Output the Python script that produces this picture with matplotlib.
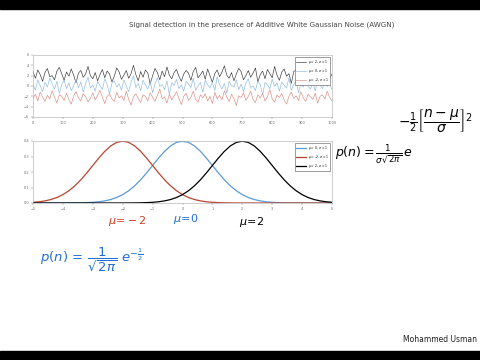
import numpy as np
import matplotlib
matplotlib.use("Agg")
import matplotlib.pyplot as plt
from matplotlib.patches import Rectangle

# ---------------- data ----------------
title = "Signal detection in the presence of Additive White Gaussian Noise (AWGN)"
author = "Mohammed Usman"

noise_labels = [r"$\mu$ = 2, $\sigma$ = 1", r"$\mu$ = 0, $\sigma$ = 1", r"$\mu$ = -2, $\sigma$ = 1"]
noise_black = [2.8, 1.5, 3.1, 2.2, 0.9, 2.6, 3.4, 1.8, 2.0, 1.2, 2.9, 3.6, 2.4, 1.1, 2.7, 1.9, 3.3, 2.1, 0.6, 2.5,
               3.0, 1.7, 2.3, 3.8, 2.0, 1.4, 2.6, 1.0, 2.2, 3.2, 1.6, 2.9, 2.3, 0.8, 1.9, 3.5, 2.7, 1.3, 2.1, 3.0,
               1.5, 2.4, 4.0, 2.2, 1.0, 2.8, 1.7, 3.1, 2.5, 0.4, 2.0, 3.4, 2.6, 1.2, 2.9, 1.8, 3.7, 2.1, 1.4, 2.6,
               3.2, 1.9, 0.9, 2.3, 3.0, 2.5, 1.1, 2.8, 3.6, 1.6, 2.2, 2.9, 1.3, 3.3, 2.0, 0.7, 2.4, 3.1, 1.8, 2.7,
               3.9, 2.1, 1.5, 2.6, 1.0, 2.3, 3.4, 2.8, 1.2, 2.0, 3.0, 1.7, 2.5, 3.5, 0.8, 2.2, 2.9, 1.4, 3.2, 2.4,
               1.6, 3.8, 2.1, 1.1, 2.7, 3.3, 1.9, 2.4, 0.5, 2.8, 3.1, 1.6, 2.2, 3.6, 2.0, 1.3, 2.9, 2.5, 1.0, 3.4,
               2.2, 1.7, 2.6, 3.0, 1.5, 2.3]
noise_blue = [0.3, -0.8, 1.2, 0.1, -1.1, 0.7, -0.2, 1.5, 0.4, -0.6, 0.9, -1.4, 0.2, 1.1, -0.5, 0.6, -0.9, 0.0, 1.3, -0.3,
              0.8, -1.2, 0.5, 1.7, -0.4, 0.2, -1.0, 0.9, 0.1, -0.7, 1.4, 0.3, -1.5, 0.6, 1.0, -0.2, 0.4, -0.8, 1.2, 0.0,
              -1.1, 0.7, 2.0, -0.3, 0.5, -0.9, 1.1, 0.2, -0.6, 0.8, -1.3, 0.4, 1.6, -0.1, 0.3, -0.7, 1.0, -1.6, 0.6, 0.1,
              1.3, -0.5, 0.2, -1.0, 0.9, 0.4, -0.3, 1.5, -0.8, 0.0, 0.7, -1.2, 1.1, 0.3, -0.4, 0.8, -0.9, 1.8, 0.2, -0.6,
              0.5, -1.4, 0.9, 0.1, -0.2, 1.2, -0.7, 0.4, -1.1, 0.6, 1.4, -0.3, 0.0, -0.9, 1.0, 0.3, -1.7, 0.7, 0.2, -0.5,
              1.3, -0.1, 0.6, -1.0, 0.8, 0.1, -0.4, 1.6, -0.8, 0.3, 0.9, -1.3, 0.5, -0.2, 1.1, 0.0, -0.6, 0.7, -1.0, 1.4,
              0.2, -0.5, 0.8, -0.1, 0.4, -0.7]
noise_red = [-2.4, -1.6, -2.9, -1.2, -2.1, -3.0, -1.8, -2.5, -0.9, -2.2, -3.3, -1.7, -2.0, -2.8, -1.4, -2.6, -3.5, -1.9, -1.1, -2.3,
             -2.9, -1.5, -2.1, -3.1, -2.4, -1.3, -2.7, -1.8, -0.8, -2.2, -3.4, -2.0, -1.6, -2.5, -3.0, -1.2, -2.3, -1.9, -2.8, -1.0,
             -2.6, -3.7, -2.1, -1.5, -2.4, -3.2, -1.7, -2.0, -2.9, -1.3, -2.2, -3.0, -1.8, -0.6, -2.5, -2.1, -3.3, -1.6, -2.7, -1.9,
             -1.1, -2.4, -3.6, -2.0, -1.4, -2.8, -2.2, -1.0, -2.6, -3.1, -1.7, -2.3, -1.5, -2.9, -2.0, -3.4, -1.2, -2.5, -1.8, -2.7,
             -0.9, -2.1, -3.0, -1.6, -2.4, -3.8, -1.9, -2.2, -1.3, -2.8, -2.0, -1.0, -2.6, -3.2, -1.7, -2.3, -1.4, -2.9, -2.1, -0.7,
             -2.5, -3.1, -1.8, -2.2, -1.5, -2.7, -3.5, -2.0, -1.2, -2.4, -1.9, -2.8, -1.1, -2.3, -3.0, -1.6, -2.1, -2.6, -1.4, -3.3,
             -2.0, -1.7, -2.5, -1.0, -2.2, -2.9]

pdf_x_start, pdf_x_end = -5, 5
pdf_labels = [r"$\mu$ = 0, $\sigma$ = 1", r"$\mu$ = -2, $\sigma$ = 1", r"$\mu$ = 2, $\sigma$ = 1"]
pdf_blue = [0.0000, 0.0000, 0.0000, 0.0000, 0.0001, 0.0001, 0.0003, 0.0006, 0.0012, 0.0024, 0.0044, 0.0079, 0.0136,
            0.0224, 0.0355, 0.0540, 0.0790, 0.1109, 0.1497, 0.1942, 0.2420, 0.2897, 0.3332, 0.3683, 0.3910, 0.3989,
            0.3910, 0.3683, 0.3332, 0.2897, 0.2420, 0.1942, 0.1497, 0.1109, 0.0790, 0.0540, 0.0355, 0.0224, 0.0136,
            0.0079, 0.0044, 0.0024, 0.0012, 0.0006, 0.0003, 0.0001, 0.0001, 0.0000, 0.0000, 0.0000, 0.0000]
pdf_red = [0.0044, 0.0079, 0.0136, 0.0224, 0.0355, 0.0540, 0.0790, 0.1109, 0.1497, 0.1942, 0.2420, 0.2897, 0.3332,
           0.3683, 0.3910, 0.3989, 0.3910, 0.3683, 0.3332, 0.2897, 0.2420, 0.1942, 0.1497, 0.1109, 0.0790, 0.0540,
           0.0355, 0.0224, 0.0136, 0.0079, 0.0044, 0.0024, 0.0012, 0.0006, 0.0003, 0.0001, 0.0001, 0.0000, 0.0000,
           0.0000, 0.0000, 0.0000, 0.0000, 0.0000, 0.0000, 0.0000, 0.0000, 0.0000, 0.0000, 0.0000, 0.0000]
pdf_black = [0.0000, 0.0000, 0.0000, 0.0000, 0.0000, 0.0000, 0.0000, 0.0000, 0.0000, 0.0000, 0.0000, 0.0000, 0.0000,
             0.0000, 0.0001, 0.0001, 0.0003, 0.0006, 0.0012, 0.0024, 0.0044, 0.0079, 0.0136, 0.0224, 0.0355, 0.0540,
             0.0790, 0.1109, 0.1497, 0.1942, 0.2420, 0.2897, 0.3332, 0.3683, 0.3910, 0.3989, 0.3910, 0.3683, 0.3332,
             0.2897, 0.2420, 0.1942, 0.1497, 0.1109, 0.0790, 0.0540, 0.0355, 0.0224, 0.0136, 0.0079, 0.0044]

mu_notes = [r"$\mu\!=\!-2$", r"$\mu\!=\!0$", r"$\mu\!=\!2$"]

# ---------------- figure ----------------
BLUE = "#5b9bd5"
RED = "#b8452f"
INK_BLUE = "#1f6fd6"
fig = plt.figure(figsize=(4.8, 3.6), dpi=100)
fig.patch.set_facecolor("white")

# letterbox bars
fig.add_artist(Rectangle((0, 1 - 9 / 360), 1, 9 / 360, transform=fig.transFigure, color="black", zorder=10))
fig.add_artist(Rectangle((0, 0), 1, 9 / 360, transform=fig.transFigure, color="black", zorder=10))

fig.text(262 / 480, 1 - 25 / 360, title, ha="center", va="center", fontsize=5.1,
         family="DejaVu Sans", color="#444444")

tick_kw = dict(labelsize=2.5, length=1.5, width=0.3, colors="#666666", pad=1.2)

ax1 = fig.add_axes([33 / 480, 1 - 117 / 360, 299 / 480, 62 / 360])
xs = np.linspace(0, 1000, len(noise_black))
ax1.plot(xs, noise_black, color="#333333", lw=0.45, label=noise_labels[0])
ax1.plot(xs, noise_blue, color="#8ab8e0", lw=0.45, label=noise_labels[1])
ax1.plot(xs, noise_red, color="#d98a80", lw=0.45, label=noise_labels[2])
ax1.set_xlim(0, 1000)
ax1.set_ylim(-6, 6)
ax1.set_xticks(np.arange(0, 1001, 100))
ax1.set_yticks(np.arange(-6, 7, 2))
ax1.tick_params(**tick_kw)
for s in ax1.spines.values():
    s.set_linewidth(0.4)
    s.set_color("#aaaaaa")
ax1.legend(loc="upper right", fontsize=2.2, frameon=True, fancybox=False, edgecolor="#555555",
           handlelength=3, borderpad=0.4, labelspacing=0.3, framealpha=1).get_frame().set_linewidth(0.4)

ax2 = fig.add_axes([33 / 480, 1 - 203 / 360, 299 / 480, 62 / 360])
px = np.linspace(pdf_x_start, pdf_x_end, len(pdf_blue))
ax2.plot(px, pdf_blue, color=BLUE, lw=0.9, label=pdf_labels[0])
ax2.plot(px, pdf_red, color=RED, lw=0.9, label=pdf_labels[1])
ax2.plot(px, pdf_black, color="black", lw=0.9, label=pdf_labels[2])
ax2.set_xlim(pdf_x_start, pdf_x_end)
ax2.set_ylim(0, 0.4)
ax2.set_xticks(np.arange(-5, 6, 1))
ax2.set_yticks([0, 0.1, 0.2, 0.3, 0.4])
ax2.tick_params(**tick_kw)
for s in ax2.spines.values():
    s.set_linewidth(0.4)
    s.set_color("#aaaaaa")
ax2.legend(loc="upper right", fontsize=2.2, frameon=True, fancybox=False, edgecolor="#555555",
           handlelength=3, borderpad=0.4, labelspacing=0.3, framealpha=1).get_frame().set_linewidth(0.4)

# handwritten-style annotations
fig.text(127 / 480, 1 - 221 / 360, mu_notes[0], color="#d0402a", fontsize=8, ha="center", va="center")
fig.text(186 / 480, 1 - 219 / 360, mu_notes[1], color=INK_BLUE, fontsize=8, ha="center", va="center")
fig.text(252 / 480, 1 - 222 / 360, mu_notes[2], color="black", fontsize=8, ha="center", va="center")

fig.text(335 / 480, 1 - 157 / 360, r"$p(n)=\frac{1}{\sigma\sqrt{2\pi}}\,e$",
         color="black", fontsize=9, ha="left", va="baseline")
fig.text(398 / 480, 1 - 121 / 360, r"$-\frac{1}{2}\left[\dfrac{n-\mu}{\sigma}\right]^2$",
         color="black", fontsize=10, ha="left", va="center")

fig.text(40 / 480, 1 - 262 / 360, r"$p(n)\,=\,\dfrac{1}{\sqrt{2\pi}}\;e^{-\frac{1}{2}}$",
         color=INK_BLUE, fontsize=9.5, ha="left", va="baseline")

fig.text(440 / 480, 1 - 339 / 360, author, fontsize=5.5, ha="center", va="center",
         family="DejaVu Sans", color="#222222")

fig.savefig("out.png", dpi=100, facecolor="white")
